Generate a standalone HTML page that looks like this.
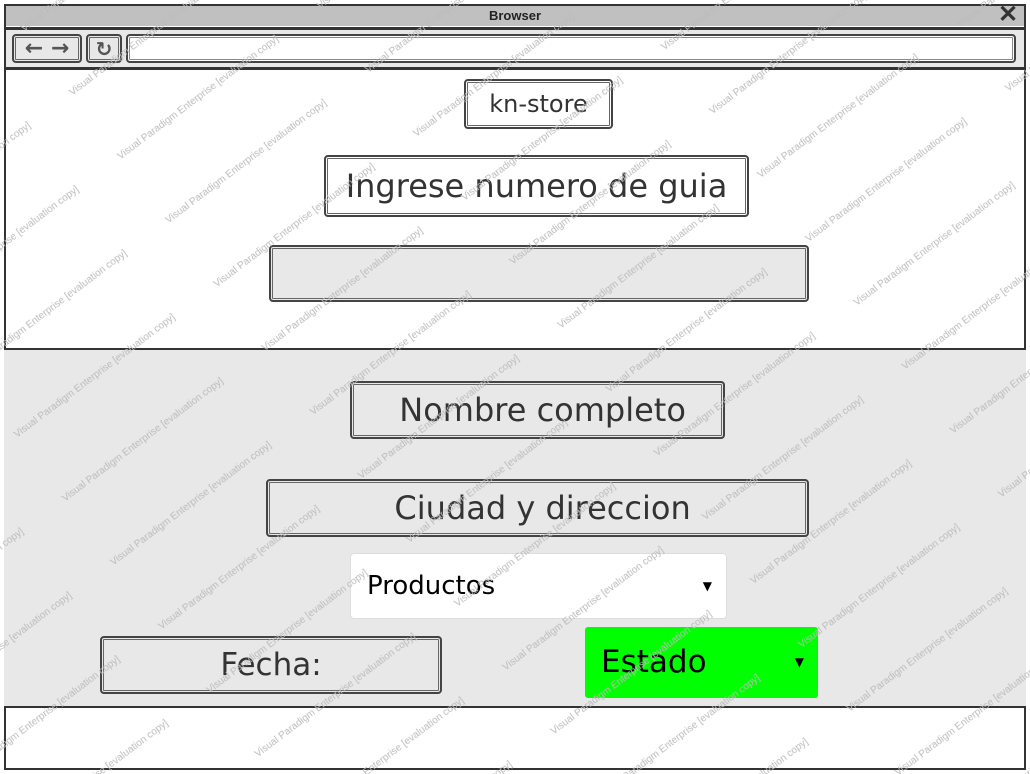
<!DOCTYPE html>
<html><head><meta charset="utf-8"><style>
*{margin:0;padding:0;box-sizing:border-box}
body{width:1030px;height:774px;background:#fff;position:relative;overflow:hidden;font-family:"Comic Sans MS","DejaVu Sans","Liberation Sans",sans-serif}
.abs{position:absolute}
.box{position:absolute;border:2px solid #444;border-radius:4px;background:#e8e8e8;display:flex;align-items:center;justify-content:center;color:#333;box-shadow:inset 0 0 0 1px #e8e8e8,inset 0 0 0 2px #666}
.wm{position:absolute;left:0;top:0;pointer-events:none}
</style></head><body>
<div class="abs" style="left:4px;top:4px;width:1022px;height:766px;border:2px solid #333"></div>
<div class="abs" style="left:6px;top:6px;width:1018px;height:20px;background:#c0c0c0;font:bold 13px 'Liberation Sans',sans-serif;color:#222;text-align:center;line-height:20px">Browser</div>
<div class="abs" style="left:998px;top:2px;font:bold 24px 'Liberation Sans',sans-serif;color:#333;line-height:26px">✕</div>
<div class="abs" style="left:4px;top:27px;width:1022px;height:3px;background:#333"></div>
<div class="abs" style="left:6px;top:30px;width:1018px;height:38px;background:#e8e8e8"></div>
<div class="abs" style="left:4px;top:67px;width:1022px;height:3px;background:#333"></div>
<div class="box" style="left:12px;top:34px;width:70px;height:29px;font:bold 22px 'DejaVu Sans',sans-serif;color:#555">←&nbsp;→</div>
<div class="box" style="left:86px;top:34px;width:36px;height:29px;font:bold 20px 'DejaVu Sans',sans-serif;color:#555">↻</div>
<div class="box" style="left:126px;top:34px;width:890px;height:29px;background:#fff;box-shadow:inset 0 0 0 1px #fff,inset 0 0 0 2px #888"></div>
<div class="abs" style="left:4px;top:348px;width:1022px;height:360px;background:#e8e8e8;border-top:2px solid #333;border-bottom:2px solid #333"></div>
<div class="box" style="left:464px;top:79px;width:149px;height:50px;background:#fff;box-shadow:inset 0 0 0 1px #fff,inset 0 0 0 2px #666;font-size:24px">kn-store</div>
<div class="box" style="left:324px;top:155px;width:425px;height:62px;background:#fff;box-shadow:inset 0 0 0 1px #fff,inset 0 0 0 2px #666;font-size:32px">Ingrese numero de guia</div>
<div class="box" style="left:269px;top:245px;width:540px;height:57px"></div>
<div class="box" style="left:350px;top:381px;width:375px;height:58px;font-size:32px">&nbsp;Nombre completo</div>
<div class="box" style="left:266px;top:479px;width:543px;height:58px;font-size:32px">&nbsp;Ciudad y direccion</div>
<div class="abs" style="left:350px;top:553px;width:377px;height:66px;background:#fff;border:1px solid #ddd;border-radius:4px;font-size:26px;color:#000;line-height:64px;padding-left:16px">Productos<span style="position:absolute;right:14px;top:0;font-size:12px">▼</span></div>
<div class="box" style="left:100px;top:636px;width:342px;height:58px;font-size:31px">Fecha:</div>
<div class="abs" style="left:585px;top:627px;width:233px;height:71px;background:#00ff00;border-radius:3px;font-size:31px;color:#000;line-height:71px;padding-left:16px">Estado<span style="position:absolute;right:14px;top:0;font-size:12px">▼</span></div>
<svg class="wm" width="1030" height="774" xmlns="http://www.w3.org/2000/svg">
<defs><pattern id="p" width="250" height="80" patternUnits="userSpaceOnUse" patternTransform="rotate(-37)">
<text x="0" y="40" font-family="Liberation Sans,sans-serif" font-size="10" fill="#bbb">Visual Paradigm Enterprise [evaluation copy]</text>
</pattern></defs>
<rect width="1030" height="774" fill="url(#p)"/>
</svg>
</body></html>
